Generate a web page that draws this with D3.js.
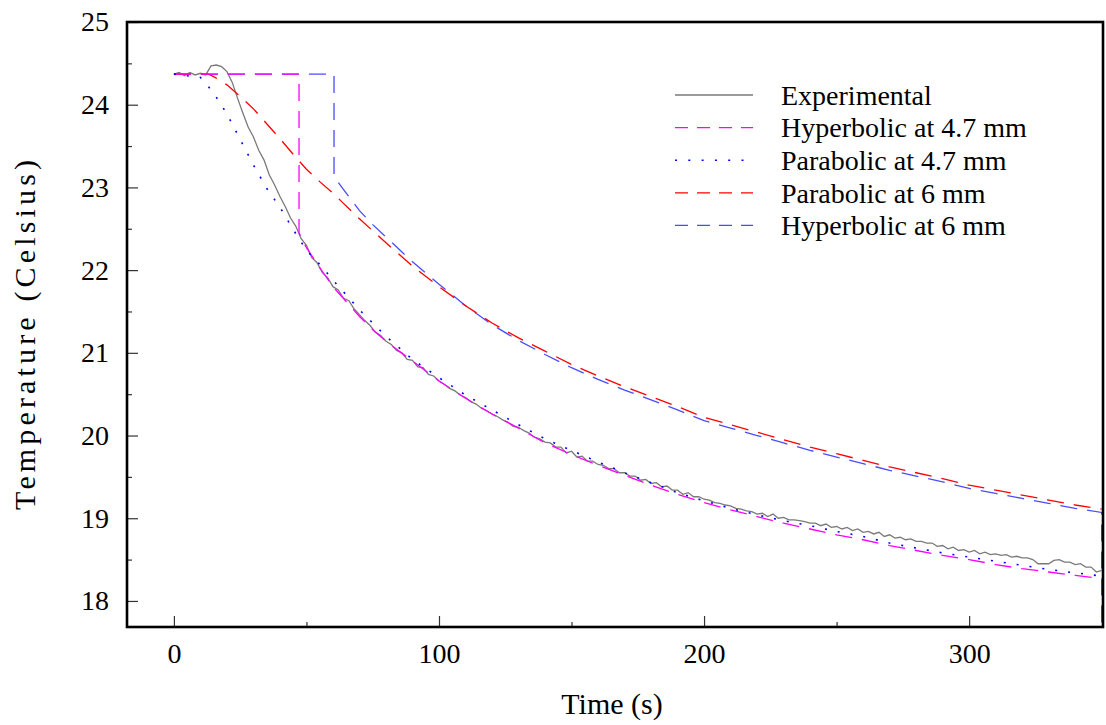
<!DOCTYPE html>
<html>
<head>
<meta charset="utf-8">
<script src="https://cdn.jsdelivr.net/npm/d3@7"></script>
<style>
  body { margin: 0; background: #fff; }
  svg text { font-family: 'Liberation Serif', serif; }
</style>
</head>
<body>
<svg></svg>
<script>
// experimental record, one sample every 2 s from t = 0
const expStep = 2
const expTemp = [
  24.37, 24.39, 24.35, 24.39, 24.36, 24.38, 24.36, 24.47, 24.48, 24.46,
  24.40, 24.27, 24.08, 23.90, 23.73, 23.61, 23.45, 23.33, 23.15, 23.03,
  22.89, 22.77, 22.63, 22.53, 22.38, 22.30, 22.15, 22.09, 21.97, 21.91,
  21.80, 21.76, 21.66, 21.63, 21.53, 21.46, 21.39, 21.33, 21.25, 21.21,
  21.14, 21.10, 21.03, 21.00, 20.92, 20.91, 20.83, 20.82, 20.74, 20.72,
  20.66, 20.62, 20.57, 20.54, 20.49, 20.46, 20.41, 20.38, 20.33, 20.30,
  20.26, 20.23, 20.19, 20.16, 20.11, 20.10, 20.06, 20.03, 19.98, 19.96,
  19.92, 19.91, 19.86, 19.86, 19.79, 19.81, 19.74, 19.75, 19.69, 19.69,
  19.65, 19.64, 19.60, 19.60, 19.55, 19.55, 19.51, 19.51, 19.46, 19.47,
  19.42, 19.43, 19.38, 19.39, 19.34, 19.34, 19.29, 19.31, 19.26, 19.26,
  19.23, 19.22, 19.19, 19.18, 19.16, 19.15, 19.12, 19.11, 19.09, 19.08,
  19.05, 19.06, 19.02, 19.05, 19.00, 19.01, 18.98, 18.98, 18.97, 18.96,
  18.94, 18.94, 18.91, 18.93, 18.89, 18.90, 18.87, 18.89, 18.85, 18.87,
  18.83, 18.84, 18.81, 18.83, 18.78, 18.80, 18.76, 18.77, 18.74, 18.75,
  18.72, 18.72, 18.70, 18.70, 18.66, 18.67, 18.63, 18.65, 18.61, 18.62,
  18.59, 18.61, 18.57, 18.59, 18.56, 18.57, 18.55, 18.56, 18.53, 18.54,
  18.52, 18.52, 18.50, 18.45, 18.45, 18.45, 18.49, 18.50, 18.47, 18.47,
  18.44, 18.45, 18.41, 18.41, 18.35, 18.37
]

// Hyperbolic at 4.7 mm
const hyp47Time = [0, 47.2, 47.2, 50, 55, 60, 65, 70, 75, 80, 90, 100, 110, 120, 130, 140, 150, 160, 170, 180,
  190, 200, 210, 220, 230, 240, 250, 260, 270, 280, 290, 300, 310, 320, 330, 340, 350]
const hyp47Temp = [24.37, 24.37, 22.45, 22.27, 22.03, 21.80, 21.62, 21.44, 21.28, 21.14, 20.90, 20.66, 20.45, 20.26, 20.09, 19.91, 19.77, 19.64, 19.52, 19.40,
  19.29, 19.19, 19.10, 19.02, 18.94, 18.87, 18.80, 18.74, 18.67, 18.61, 18.55, 18.50, 18.44, 18.39, 18.35, 18.31, 18.27]

// Parabolic at 4.7 mm
const par47Time = [0, 10, 13, 16, 20, 25, 30, 35, 40, 45, 50, 55, 60, 70, 80, 90, 100, 110, 120, 130,
  140, 150, 160, 170, 180, 190, 200, 210, 220, 230, 240, 250, 260, 270, 280, 290, 300, 310, 320, 330, 340, 350]
const par47Temp = [24.37, 24.33, 24.22, 24.09, 23.89, 23.58, 23.27, 22.99, 22.76, 22.49, 22.24, 22.07, 21.88, 21.52, 21.20, 20.92, 20.70, 20.49, 20.31, 20.13,
  19.96, 19.82, 19.68, 19.55, 19.43, 19.31, 19.21, 19.12, 19.04, 18.97, 18.91, 18.84, 18.78, 18.70, 18.64, 18.58, 18.53, 18.48, 18.43, 18.38, 18.34, 18.30]

// Parabolic at 6 mm
const par6Time = [0, 13, 15, 20, 25, 30, 35, 40, 45, 50, 55, 60, 70, 80, 90, 100, 110, 120, 130, 140,
  150, 160, 170, 180, 190, 200, 210, 220, 230, 240, 250, 260, 270, 280, 290, 300, 310, 320, 330, 340, 350]
const par6Temp = [24.37, 24.37, 24.34, 24.24, 24.10, 23.95, 23.77, 23.59, 23.40, 23.22, 23.07, 22.93, 22.62, 22.33, 22.05, 21.80, 21.57, 21.36, 21.18, 21.02,
  20.86, 20.72, 20.59, 20.47, 20.35, 20.22, 20.13, 20.04, 19.95, 19.86, 19.78, 19.70, 19.62, 19.55, 19.48, 19.40, 19.34, 19.28, 19.22, 19.16, 19.11]

// Hyperbolic at 6 mm (last sample falls below the axis)
const hyp6Time = [0, 60.4, 60.4, 65, 70, 75, 80, 90, 100, 110, 120, 130, 140, 150, 160, 170, 180, 190, 200, 210,
  220, 230, 240, 250, 260, 270, 280, 290, 300, 310, 320, 330, 340, 350, 350]
const hyp6Temp = [24.37, 24.37, 23.13, 22.93, 22.72, 22.55, 22.40, 22.10, 21.83, 21.57, 21.34, 21.15, 20.98, 20.82, 20.68, 20.55, 20.43, 20.31, 20.18, 20.09,
  20.00, 19.91, 19.82, 19.74, 19.66, 19.58, 19.51, 19.44, 19.36, 19.30, 19.24, 19.18, 19.12, 19.07, 17.0]

const xTicks = [0, 100, 200, 300]
const xMinor = [50, 150, 250]
const yTicks = [18, 19, 20, 21, 22, 23, 24, 25]
const yMinor = [18.5, 19.5, 20.5, 21.5, 22.5, 23.5, 24.5]

const legendNames = ['Experimental', 'Hyperbolic at 4.7 mm', 'Parabolic at 4.7 mm', 'Parabolic at 6 mm', 'Hyperbolic at 6 mm']

let width = 1106
let height = 725
let pLeft = 127, pRight = 1103, pTop = 22, pBottom = 627
let serif = 'Liberation Serif, serif'

let svg = d3.select('svg').attr('width', width).attr('height', height)
  .attr('font-family', serif)

let x = d3.scaleLinear().domain([-17.7, 350.5]).range([pLeft, pRight])
let y = d3.scaleLinear().domain([17.685, 25]).range([pBottom, pTop])

svg.append('clipPath').attr('id', 'clip')
  .append('rect').attr('x', pLeft).attr('y', pTop).attr('width', pRight - pLeft).attr('height', pBottom - pTop)

// axes: ticks point into the plot
let axes = [
  svg.append('g').attr('transform', 'translate(0,' + pBottom + ')')
    .call(d3.axisBottom(x).tickValues(xTicks).tickSize(-11).tickPadding(16).tickFormat(d3.format('d'))),
  svg.append('g').attr('transform', 'translate(0,' + pBottom + ')')
    .call(d3.axisBottom(x).tickValues(xMinor).tickSize(-5).tickFormat('')),
  svg.append('g').attr('transform', 'translate(' + pLeft + ',0)')
    .call(d3.axisLeft(y).tickValues(yTicks).tickSize(-11).tickPadding(18).tickFormat(d3.format('d'))),
  svg.append('g').attr('transform', 'translate(' + pLeft + ',0)')
    .call(d3.axisLeft(y).tickValues(yMinor).tickSize(-5).tickFormat(''))
]
axes.forEach(a => a.attr('font-family', serif).attr('font-size', 28))

svg.selectAll('.domain').remove()
svg.selectAll('.tick line').attr('stroke', '#333').attr('stroke-width', 1.2)
svg.selectAll('.tick text').attr('fill', '#000').attr('font-family', serif).attr('font-size', 28)

// curves
let plot = svg.append('g').attr('clip-path', 'url(#clip)')

let line = d3.line().x(d => x(d[0])).y(d => y(d[1]))

let series = [
  { pts: hyp6Time.map((t, i) => [t, hyp6Temp[i]]), color: '#4b4bff', dash: '17,10', w: 1.3 },
  { pts: par6Time.map((t, i) => [t, par6Temp[i]]), color: '#ff0000', dash: '17,10', w: 1.3 },
  { pts: hyp47Time.map((t, i) => [t, hyp47Temp[i]]), color: '#ff00ff', dash: '17,10', w: 1.3 },
  { pts: par47Time.map((t, i) => [t, par47Temp[i]]), color: '#0000ff', dash: '2,11', w: 1.6 }
]

plot.append('path')
  .datum(expTemp.map((v, i) => [i * expStep, v]))
  .attr('fill', 'none')
  .attr('stroke', '#7a7a7a')
  .attr('stroke-width', 1.3)
  .attr('d', line)

series.forEach(s => {
  plot.append('path')
    .datum(s.pts)
    .attr('fill', 'none')
    .attr('stroke', s.color)
    .attr('stroke-width', s.w)
    .attr('stroke-dasharray', s.dash)
    .attr('d', line)
})

// frame
svg.append('rect')
  .attr('x', pLeft).attr('y', pTop)
  .attr('width', pRight - pLeft).attr('height', pBottom - pTop)
  .attr('fill', 'none').attr('stroke', '#000').attr('stroke-width', 2.6)

// axis titles
svg.append('text')
  .attr('x', 612).attr('y', 714)
  .attr('text-anchor', 'middle')
  .attr('font-family', serif)
  .attr('font-size', 30)
  .text('Time (s)')

svg.append('text')
  .attr('transform', 'translate(35,' + 335 + ') rotate(-90)')
  .attr('text-anchor', 'middle')
  .attr('font-family', serif)
  .attr('font-size', 30)
  .attr('textLength', 350)
  .attr('lengthAdjust', 'spacing')
  .text('Temperature (Celsius)')

// legend
let legendColors = ['#7a7a7a', '#ff00ff', '#0000ff', '#ff0000', '#4b4bff']
let legendDash = [null, '13,9', '2,11.3', '13,9', '13,9']
let legend = svg.append('g')
legendNames.forEach((name, i) => {
  let ly = 95 + i * 32.6
  legend.append('line')
    .attr('x1', 675).attr('x2', 753).attr('y1', ly).attr('y2', ly)
    .attr('stroke', legendColors[i])
    .attr('stroke-width', i == 2 ? 1.6 : 1.3)
    .attr('stroke-dasharray', legendDash[i])
  legend.append('text')
    .attr('x', 781).attr('y', ly)
    .attr('dy', '0.35em')
    .attr('font-family', serif)
    .attr('font-size', 28)
    .text(name)
})
</script>
</body>
</html>
